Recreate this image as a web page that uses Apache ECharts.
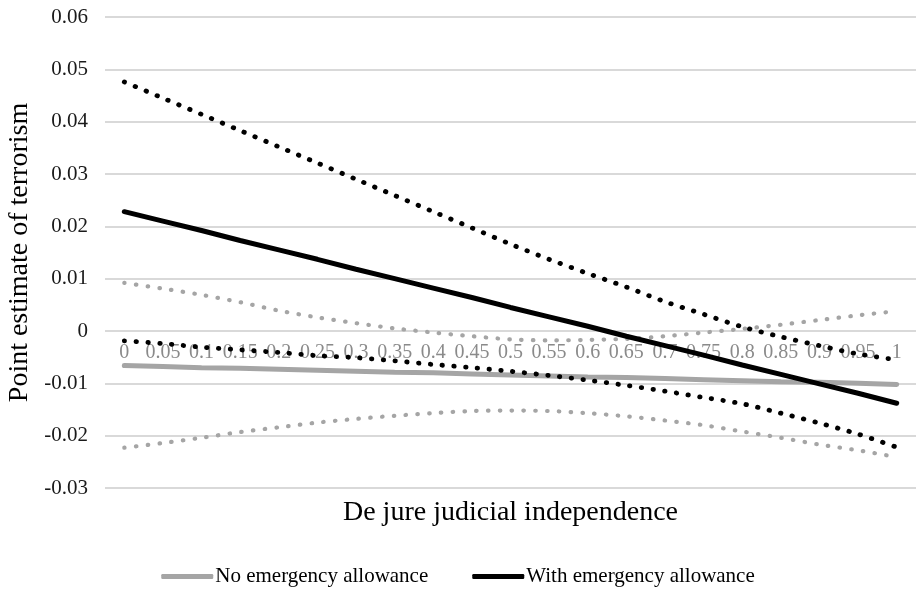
<!DOCTYPE html>
<html>
<head>
<meta charset="utf-8">
<script src="https://cdn.jsdelivr.net/npm/echarts@6/dist/echarts.min.js"></script>
<style>
html,body{margin:0;padding:0;background:#fff;}
#chart{width:916px;height:589px;}
</style>
</head>
<body>
<div id="chart"></div>
<script>
var categories = ['0','0.05','0.1','0.15','0.2','0.25','0.3','0.35','0.4','0.45','0.5','0.55','0.6','0.65','0.7','0.75','0.8','0.85','0.9','0.95','1'];

var noEmergency = [-0.0066,-0.0068,-0.0070,-0.0071,-0.0073,-0.0075,-0.0077,-0.0079,-0.0080,-0.0082,-0.0084,-0.0086,-0.0088,-0.0089,-0.0091,-0.0093,-0.0095,-0.0097,-0.0098,-0.0100,-0.0102];
var noEmergencyUpper = [0.0092,0.0081,0.0069,0.0055,0.0039,0.0026,0.0015,0.0005,-0.0003,-0.0010,-0.0016,-0.0018,-0.0017,-0.0015,-0.0010,-0.0003,0.0004,0.0012,0.0021,0.0030,0.0038];
var noEmergencyLower = [-0.0223,-0.0214,-0.0204,-0.0193,-0.0184,-0.0175,-0.0168,-0.0162,-0.0157,-0.0153,-0.0152,-0.0153,-0.0157,-0.0163,-0.0171,-0.0180,-0.0192,-0.0204,-0.0217,-0.0228,-0.0241];

var withEmergency = [0.0228,0.0210,0.0192,0.0173,0.0155,0.0137,0.0118,0.0100,0.0082,0.0064,0.0045,0.0027,0.0009,-0.0010,-0.0028,-0.0046,-0.0065,-0.0083,-0.0101,-0.0119,-0.0138];
var withEmergencyUpper = [0.0476,0.0445,0.0414,0.0383,0.0352,0.0321,0.0290,0.0259,0.0228,0.0197,0.0166,0.0137,0.0110,0.0084,0.0056,0.0032,0.0008,-0.0011,-0.0028,-0.0044,-0.0055];
var withEmergencyLower = [-0.0019,-0.0024,-0.0031,-0.0036,-0.0041,-0.0047,-0.0051,-0.0057,-0.0064,-0.0070,-0.0077,-0.0085,-0.0094,-0.0104,-0.0115,-0.0127,-0.0139,-0.0157,-0.0176,-0.0197,-0.0222];

var yTicks = {min: -0.03, max: 0.06, interval: 0.01};

var GRAY = '#a5a5a5';
var BLACK = '#000000';
var FONT = "'Liberation Serif', 'Times New Roman', serif";

function dotted(name, data, color, width) {
  return {
    name: name, type: 'line', data: data, symbol: 'none', smooth: 0.3,
    lineStyle: {color: color, width: width, type: [0.5, 11.3], cap: 'round'},
    itemStyle: {color: color}, z: 3
  };
}

var chart = echarts.init(document.getElementById('chart'), null, {renderer: 'canvas'});
chart.setOption({
  animation: false,
  backgroundColor: '#ffffff',
  grid: {left: 105, right: 0, top: 17, bottom: 101, containLabel: false, outerBoundsMode: 'none'},
  legend: {
    data: ['No emergency allowance', 'With emergency allowance'],
    bottom: -3, left: 'center',
    itemWidth: 52, itemHeight: 5, itemGap: 44,
    icon: 'roundRect',
    textStyle: {fontFamily: FONT, fontSize: 21, color: '#000', padding: [0, 0, 0, -3]}
  },
  xAxis: {
    type: 'category', data: categories, boundaryGap: true,
    position: 'bottom', offset: -157,
    name: 'De jure judicial independence', nameLocation: 'middle', nameGap: 168,
    nameTextStyle: {fontFamily: FONT, fontSize: 28, color: '#000'},
    axisLine: {show: false, onZero: false},
    axisTick: {show: false},
    axisLabel: {interval: 0, margin: 12, fontFamily: FONT, fontSize: 20, color: '#8a8a8a'},
    splitLine: {show: false}
  },
  yAxis: {
    type: 'value', min: yTicks.min, max: yTicks.max, interval: yTicks.interval,
    name: 'Point estimate of terrorism', nameLocation: 'middle', nameRotate: 90, nameGap: 70,
    nameTextStyle: {fontFamily: FONT, fontSize: 28, color: '#000'},
    axisLine: {show: false}, axisTick: {show: false},
    axisLabel: {margin: 17, fontFamily: FONT, fontSize: 21, color: '#1a1a1a'},
    splitLine: {show: true, lineStyle: {color: '#d9d9d9', width: 2}}
  },
  series: [
    dotted('No emergency upper', noEmergencyUpper, GRAY, 4.2),
    dotted('No emergency lower', noEmergencyLower, GRAY, 4.2),
    {name: 'No emergency allowance', type: 'line', data: noEmergency, symbol: 'none',
     lineStyle: {color: GRAY, width: 5, cap: 'round'}, itemStyle: {color: GRAY}, z: 2},
    dotted('With emergency upper', withEmergencyUpper, BLACK, 4.8),
    dotted('With emergency lower', withEmergencyLower, BLACK, 4.8),
    {name: 'With emergency allowance', type: 'line', data: withEmergency, symbol: 'none',
     lineStyle: {color: BLACK, width: 5, cap: 'round'}, itemStyle: {color: BLACK}, z: 4}
  ]
});
</script>
</body>
</html>
